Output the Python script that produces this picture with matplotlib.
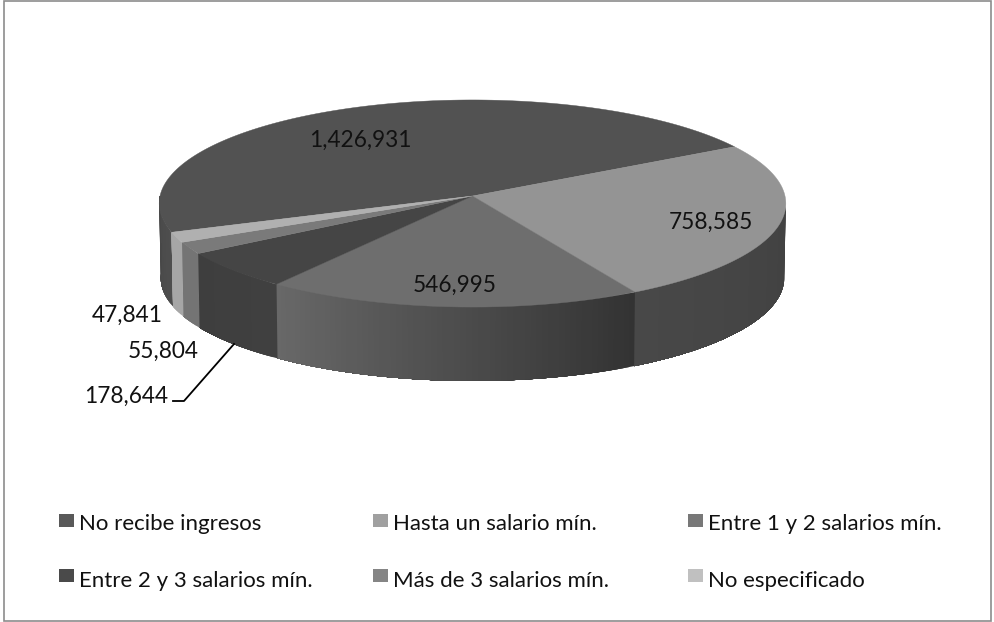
import matplotlib
matplotlib.use("Agg")
import matplotlib.pyplot as plt
import numpy as np
from matplotlib.patches import Rectangle

categories = ["No recibe ingresos", "Hasta un salario mín.", "Entre 1 y 2 salarios mín.",
              "Entre 2 y 3 salarios mín.", "Más de 3 salarios mín.", "No especificado"]
values = [1426931, 758585, 546995, 178644, 55804, 47841]
value_labels = ["1,426,931", "758,585", "546,995", "178,644", "55,804", "47,841"]

top_colors = ["#525252", "#949494", "#6e6e6e", "#454545", "#7a7a7a", "#b0b0b0"]
side_start = ["#484848", "#414141", "#333333", "#404040", "#747474", "#a6a6a6"]  # right end of the slice
side_end = ["#4e4e4e", "#484848", "#686868", "#3e3e3e", "#747474", "#a6a6a6"]  # left end of the slice
legend_colors = ["#595959", "#a0a0a0", "#787878", "#4a4a4a", "#858585", "#c0c0c0"]

label_pos = [(360, 147), (711, 229), (455, 292), (126, 403), (163, 358), (127, 322)]
legend_pos = [(59, 530), (373, 530), (688, 530), (59, 587), (373, 587), (688, 587)]
legend_box_y = [514, 514, 514, 569, 569, 569]

# pie geometry in pixels, the disc is drawn with a small perspective
cx, cy, rx, ry, persp = 472.5, 196, 312.5, 103, 0.0725
depth = 74.5
first_angle = 200.1

plt.rcParams['font.family'] = ['Lato', 'DejaVu Sans']
fig = plt.figure(figsize=(9.94, 6.22), dpi=100)
ax = fig.add_axes([0, 0, 1, 1])
ax.set_xlim(0, 994)
ax.set_ylim(622, 0)
ax.axis("off")


def project(angle, drop=0.0, scale=1.0):
    t = np.radians(angle)
    w = 1 + persp * np.sin(t)
    x = cx + scale * rx * np.cos(t) / w
    y = cy - scale * ry * np.sin(t) / w + drop
    return x, y


def mix(c1, c2, f):
    a = np.array(matplotlib.colors.to_rgb(c1))
    b = np.array(matplotlib.colors.to_rgb(c2))
    return a + (b - a) * f


ax.add_patch(Rectangle((3.5, 0.5), 987, 620, fill=False, ec="#8c8c8c", lw=1.2))

angles = first_angle - 360 * np.cumsum([0] + values) / sum(values)

# sides first, only the part that faces the viewer
for i in range(len(values)):
    hi, lo = angles[i], angles[i + 1]
    if i == 0:
        hi, lo = hi, 180
    else:
        hi = min(hi, -3)
    steps = np.linspace(hi, lo, max(int(abs(hi - lo)), 1) + 1)
    for j in range(len(steps) - 1):
        f = j / max(len(steps) - 2, 1)
        if i == 0:
            f = 1 - f
        col = mix(side_start[i], side_end[i], f)
        # each band reaches to the slice end and the next one paints over it, so no seams show
        t = np.linspace(steps[j], lo, 60)
        xt, yt = project(t)
        xb, yb = project(t[::-1], depth, 0.995)
        ax.fill(np.r_[xt, xb], np.r_[yt, yb], color=col, lw=0, zorder=2 + i * 0.01)

# top of the disc
for i in range(len(values)):
    t = np.linspace(angles[i], angles[i + 1], 200)
    x, y = project(t)
    ax.fill(np.r_[cx, x], np.r_[cy, y], color=top_colors[i], lw=0.3, zorder=3)

for txt, (x, y) in zip(value_labels, label_pos):
    ax.text(x, y, txt, fontsize=16.3, color="#111111", ha="center", va="baseline", zorder=5)

# leader line of the 178,644 label
ax.plot([173, 184, 234], [401, 401, 344], color="black", lw=1.3, zorder=4)

for name, col, (x, y), by in zip(categories, legend_colors, legend_pos, legend_box_y):
    ax.add_patch(Rectangle((x, by), 14.5, 13, color=col, lw=0))
    ax.text(x + 20, y, name, fontsize=16.0, color="#111111", ha="left", va="baseline")

fig.savefig("out.png", dpi=100)
